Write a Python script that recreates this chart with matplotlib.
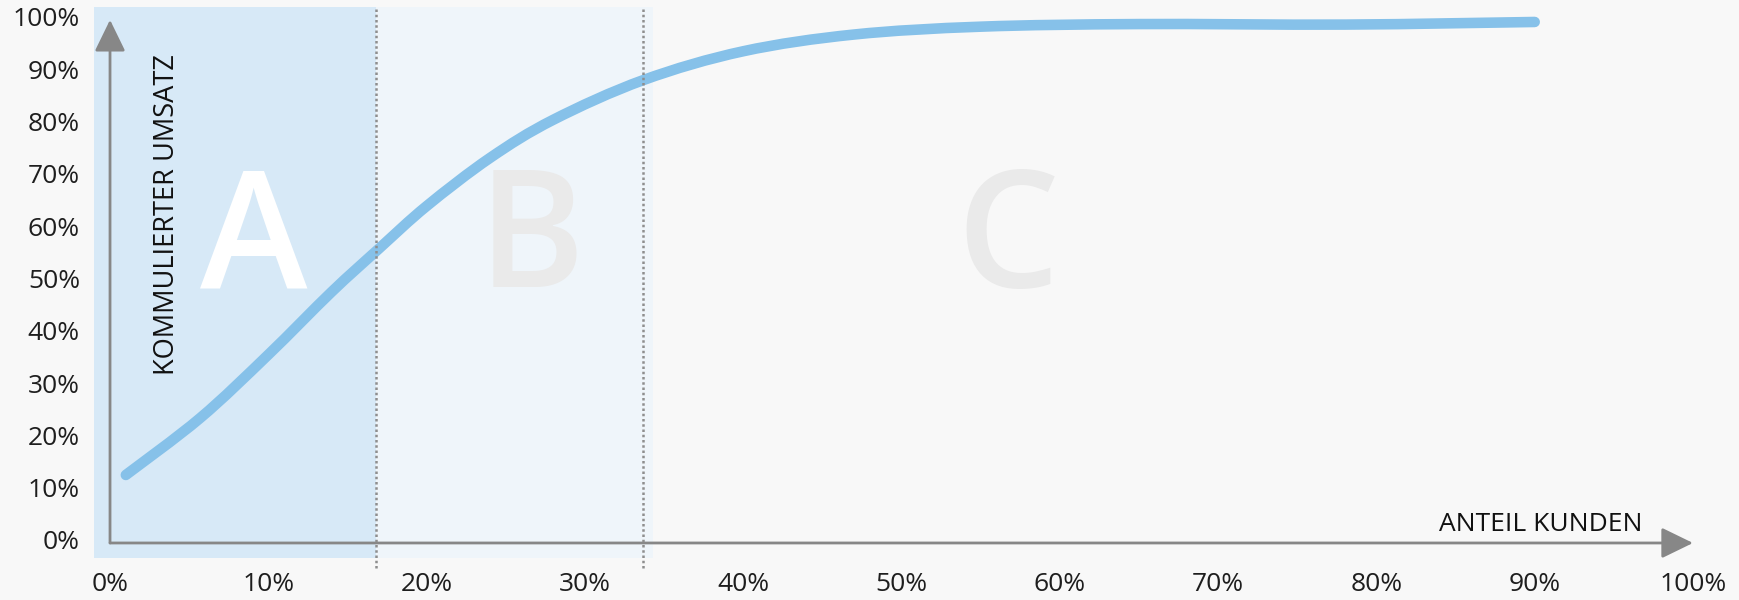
import matplotlib
matplotlib.use("Agg")
import numpy as np
import matplotlib.pyplot as plt
from matplotlib.patches import Rectangle, FancyArrowPatch, ArrowStyle, PathPatch
from matplotlib.path import Path

# Cumulative revenue curve (ABC analysis)
kunden = [1.0, 5.7, 10.0, 14.0, 17.0, 20.0, 24.0, 28.0, 33.7, 40.0,
          47.0, 55.0, 65.0, 78.0, 90.0]
umsatz = [13.0, 23.9, 36.0, 48.0, 56.3, 64.4, 73.6, 80.9, 88.5, 94.0,
          97.2, 98.7, 99.2, 99.1, 99.6]

# Class boundaries (share of customers, %)
grenze_a = 16.8
grenze_b = 33.7
ende_b = 34.3

x_ticks = [0, 10, 20, 30, 40, 50, 60, 70, 80, 90, 100]
y_ticks = [0, 10, 20, 30, 40, 50, 60, 70, 80, 90, 100]
x_tick_labels = [f"{v}%" for v in x_ticks]
y_tick_labels = [f"{v}%" for v in y_ticks]

klassen = ["A", "B", "C"]
klassen_x = [9.07, 26.6, 56.7]
klassen_farbe = ["#FFFFFF", "#EAEAEA", "#EAEAEA"]

plt.rcParams["font.family"] = ["Open Sans", "DejaVu Sans"]


def smooth_path(xs, ys):
    """Cubic Bezier path passing through every point (Catmull-Rom tangents)."""
    pts = np.column_stack([xs, ys]).astype(float)
    verts = [pts[0]]
    codes = [Path.MOVETO]
    n = len(pts)
    for i in range(n - 1):
        p0 = pts[i - 1] if i > 0 else pts[i]
        p1 = pts[i]
        p2 = pts[i + 1]
        p3 = pts[i + 2] if i + 2 < n else pts[i + 1]
        c1 = p1 + (p2 - p0) / 6.0
        c2 = p2 - (p3 - p1) / 6.0
        verts += [c1, c2, p2]
        codes += [Path.CURVE4] * 3
    return Path(verts, codes)


fig = plt.figure(figsize=(17.4, 6), dpi=100)
fig.patch.set_facecolor("#F8F8F8")
ax = fig.add_axes([0, 0, 1, 1])
ax.set_facecolor("#F8F8F8")
ax.set_xlim(-6.95, 102.97)
ax.set_ylim(-10.9, 103.8)
ax.axis("off")

# shaded class areas
ax.add_patch(Rectangle((-1.0, -2.9), grenze_a + 1.0, 105.4,
                       facecolor="#D7E9F7", edgecolor="none", zorder=1))
ax.add_patch(Rectangle((grenze_a, -2.9), ende_b - grenze_a, 105.4,
                       facecolor="#EFF5FA", edgecolor="none", zorder=1))

# class letters
for name, xc, col in zip(klassen, klassen_x, klassen_farbe):
    ax.text(xc, 57.0, name, fontsize=117, color=col, ha="center",
            va="center", fontweight="semibold", zorder=2)

# axis arrows
style = ArrowStyle("-|>", head_length=19.5, head_width=9.5)
for p0, p1 in [((0, 0), (0, 100)), ((0, 0), (100, 0))]:
    ax.add_patch(FancyArrowPatch(p0, p1, arrowstyle=style, mutation_scale=1,
                                 lw=2, color="#878787", shrinkA=0, shrinkB=0,
                                 zorder=3))

# cumulative curve
ax.add_patch(PathPatch(smooth_path(kunden, umsatz), facecolor="none",
                       edgecolor="#86C1E9", lw=7.6, capstyle="round",
                       joinstyle="round", zorder=4))

# class boundary lines
for gx in (grenze_a, grenze_b):
    ax.plot([gx, gx], [-4.8, 102.5], color="#8E8E8E", lw=1.8,
            linestyle=(0, (1, 1.1)), zorder=5)

# tick labels
for v, lab in zip(y_ticks, y_tick_labels):
    ax.text(-1.9, v, lab, fontsize=19, color="#1E1E1E", ha="right",
            va="center")
for v, lab in zip(x_ticks, x_tick_labels):
    ax.text(v, -8.0, lab, fontsize=19, color="#1E1E1E", ha="center",
            va="center")

# axis titles
ax.text(3.6, 62.7, "KOMMULIERTER UMSATZ", rotation=90, fontsize=19.6,
        color="#111111", ha="center", va="center", zorder=6)
ax.text(96.8, 3.6, "ANTEIL KUNDEN", fontsize=19, color="#111111",
        ha="right", va="center", zorder=6)

fig.savefig("out.png", dpi=100, facecolor=fig.get_facecolor())
